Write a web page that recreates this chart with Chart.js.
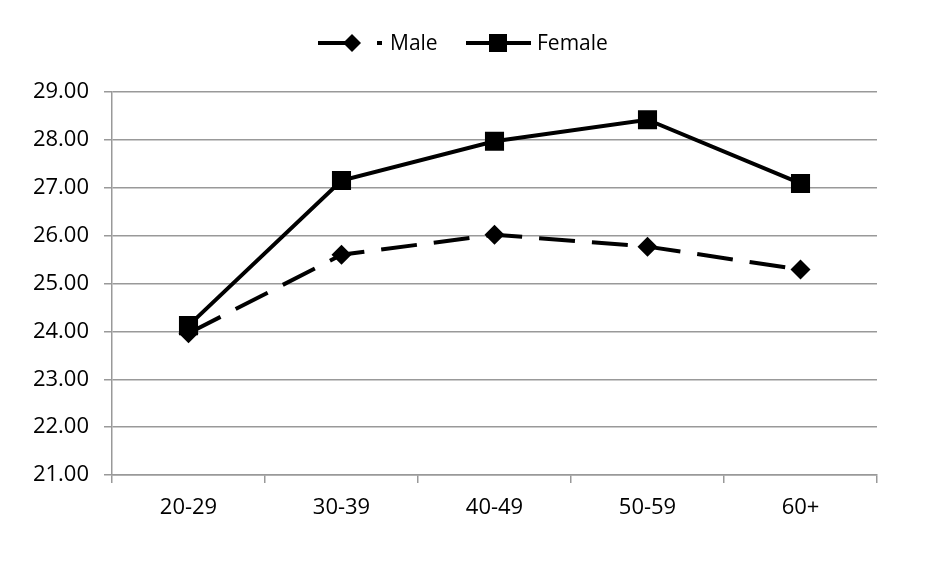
<!DOCTYPE html>
<html>
<head>
<meta charset="utf-8">
<script src="https://cdn.jsdelivr.net/npm/chart.js@4"></script>
<style>
  html, body { margin: 0; padding: 0; background: #fff; }
  #wrap { width: 931px; height: 561px; }
</style>
</head>
<body>
<div id="wrap"><canvas id="c"></canvas></div>
<script>
const grupos = ['20-29', '30-39', '40-49', '50-59', '60+'];
const male = [23.96, 25.60, 26.02, 25.77, 25.29];
const female = [24.12, 27.15, 27.97, 28.42, 27.09];
const yMin = 21;
const yMax = 29;

const fonte = { family: '"Open Sans", sans-serif', size: 22 };

// legenda desenhada à mão pra ter a linha + marcador igual ao original
const legendaManual = {
  id: 'legendaManual',
  afterDraw(chart) {
    const ctx = chart.ctx;
    const y = 43;
    ctx.save();
    ctx.strokeStyle = '#000';
    ctx.fillStyle = '#000';
    ctx.lineWidth = 4;

    // Male
    ctx.beginPath();
    ctx.moveTo(318, y); ctx.lineTo(352, y);
    ctx.moveTo(377, y); ctx.lineTo(382, y);
    ctx.stroke();
    ctx.beginPath();
    ctx.moveTo(352, y - 9); ctx.lineTo(361, y); ctx.lineTo(352, y + 9); ctx.lineTo(343, y);
    ctx.closePath();
    ctx.fill();

    // Female
    ctx.beginPath();
    ctx.moveTo(466, y); ctx.lineTo(531, y);
    ctx.stroke();
    ctx.fillRect(489, y - 9, 18, 18);

    ctx.font = '21px "Open Sans", sans-serif';
    ctx.fillStyle = '#000';
    ctx.textBaseline = 'middle';
    ctx.fillText('Male', 390, y + 1);
    ctx.fillText('Female', 537, y + 1);
    ctx.restore();
  }
};

new Chart(document.getElementById('c'), {
  type: 'line',
  data: {
    labels: grupos,
    datasets: [
      {
        label: 'Male', data: male,
        borderColor: '#000', backgroundColor: '#000', borderWidth: 4,
        borderDash: [36, 17],
        pointStyle: 'rectRot', pointRadius: 10, pointBorderWidth: 0,
        tension: 0
      },
      {
        label: 'Female', data: female,
        borderColor: '#000', backgroundColor: '#000', borderWidth: 4,
        pointStyle: 'rect', pointRadius: 13.5, pointBorderWidth: 0,
        tension: 0
      }
    ]
  },
  options: {
    responsive: true,
    maintainAspectRatio: false,
    animation: false,
    layout: { padding: { top: 92, right: 54, left: 0, bottom: 0 } },
    plugins: { legend: { display: false }, tooltip: { enabled: false } },
    scales: {
      x: {
        offset: true,
        grid: { offset: true, drawOnChartArea: false, color: '#999', tickLength: 8, lineWidth: 1.5 },
        border: { color: '#999', width: 1.5 },
        ticks: { color: '#000', font: fonte, padding: 12 },
        afterFit(s) { s.height = 86; }
      },
      y: {
        min: yMin, max: yMax,
        grid: { color: '#999', tickLength: 8, lineWidth: 1.5 },
        border: { color: '#999', width: 1.5 },
        ticks: { stepSize: 1, color: '#000', font: fonte, padding: 15, callback: v => v.toFixed(2) },
        afterFit(s) { s.width = 112; }
      }
    }
  },
  plugins: [legendaManual]
});
</script>
</body>
</html>
